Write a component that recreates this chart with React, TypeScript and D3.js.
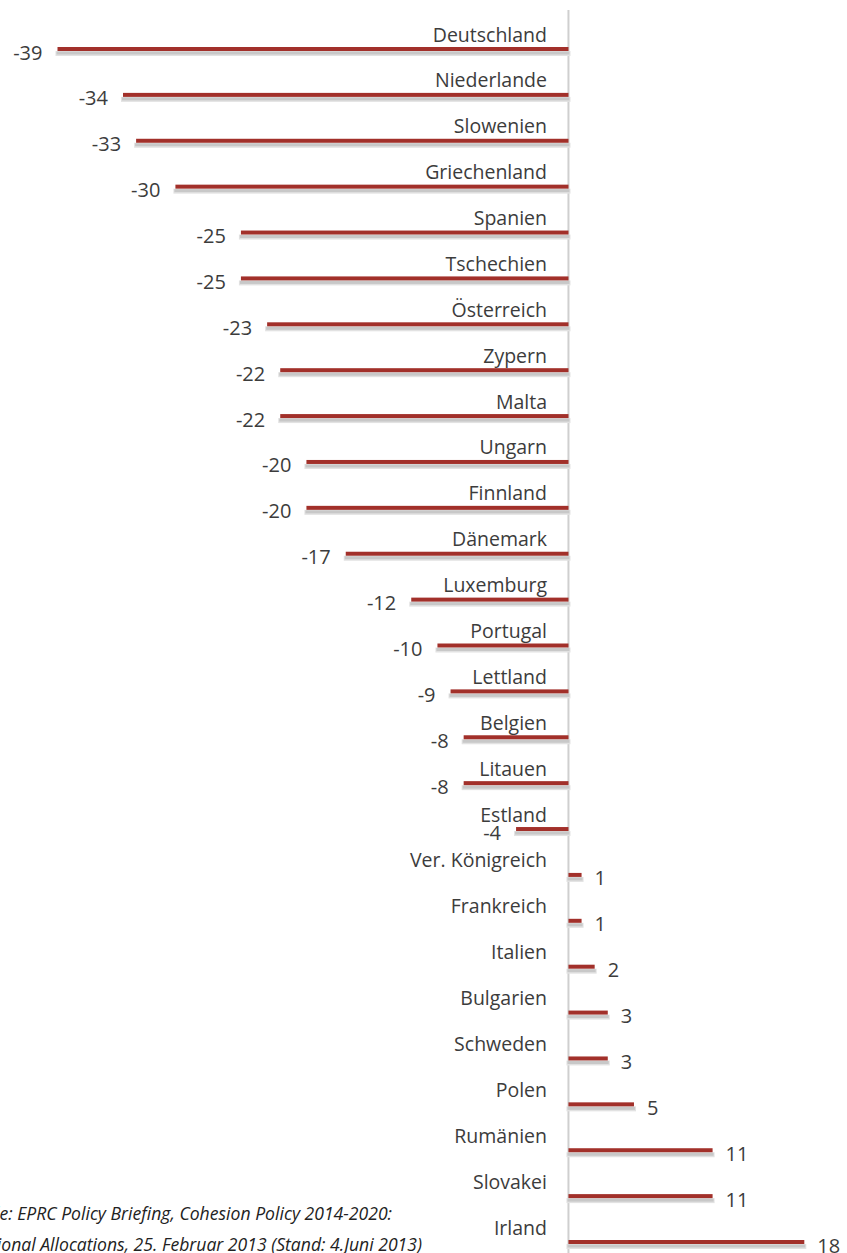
import React from "react";
import * as d3 from "d3";

const countries = [
  "Deutschland", "Niederlande", "Slowenien", "Griechenland", "Spanien", "Tschechien",
  "Österreich", "Zypern", "Malta", "Ungarn", "Finnland", "Dänemark", "Luxemburg",
  "Portugal", "Lettland", "Belgien", "Litauen", "Estland", "Ver. Königreich",
  "Frankreich", "Italien", "Bulgarien", "Schweden", "Polen", "Rumänien", "Slovakei", "Irland",
];
const values = [
  -39, -34, -33, -30, -25, -25, -23, -22, -22, -20, -20, -17, -12,
  -10, -9, -8, -8, -4, 1, 1, 2, 3, 3, 5, 11, 11, 18,
];
const sourceLines = [
  "Quelle: EPRC Policy Briefing, Cohesion Policy 2014-2020:",
  "National Allocations, 25. Februar 2013 (Stand: 4.Juni 2013)",
];

const W = 847;
const H = 1253;
const FONT = "'Open Sans', 'DejaVu Sans', sans-serif";

export default function App() {
  const x = d3.scaleLinear().domain([-39, 18]).range([57.5, 804.3]);
  const y = d3.scalePoint<string>().domain(countries).range([49, 1242]);
  const x0 = x(0);

  return (
    <svg width={W} height={H} style={{ position: "absolute", left: 0, top: 0, background: "#fff" }}>
      <line x1={x0} x2={x0} y1={10} y2={H} stroke="#cfcfcf" strokeWidth={2} />
      {countries.map((c, i) => {
        const v = values[i];
        const yy = y(c) as number;
        const xv = x(v);
        const left = Math.min(xv, x0);
        const right = Math.max(xv, x0);
        return (
          <g key={c}>
            <rect x={left - 2} y={yy + 2} width={right - left + 4} height={5} fill="#e2e2e2" />
            <rect x={left - 1} y={yy + 2.5} width={right - left + 2} height={3} fill="#c8c8c8" />
            <rect x={left} y={yy - 2} width={right - left} height={4} fill="#a2302a" />
            <text
              x={547}
              y={yy - 15}
              textAnchor="end"
              dominantBaseline="central"
              fontFamily={FONT}
              fontSize={19.5}
              fill="#3c3c3c"
            >
              {c}
            </text>
            <text
              x={v < 0 ? xv - 15 : xv + 13}
              y={yy + 3}
              textAnchor={v < 0 ? "end" : "start"}
              dominantBaseline="central"
              fontFamily={FONT}
              fontSize={20}
              fill="#3c3c3c"
            >
              {v}
            </text>
          </g>
        );
      })}
      {sourceLines.map((s, i) => (
        <text
          key={i}
          x={i === 0 ? 392 : 422}
          y={1220 + i * 31}
          textAnchor="end"
          fontFamily={FONT}
          fontStyle="italic"
          fontSize={17.6}
          fill="#222"
        >
          {s}
        </text>
      ))}
    </svg>
  );
}
